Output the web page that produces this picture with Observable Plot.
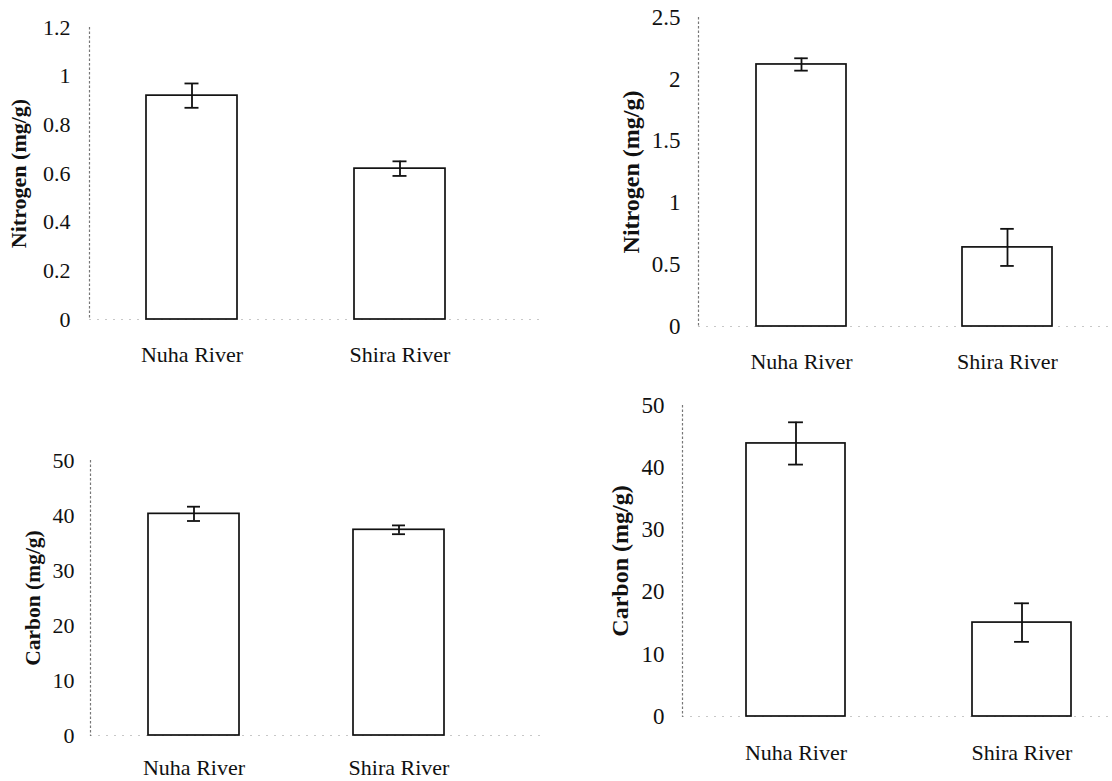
<!DOCTYPE html>
<html>
<head>
<meta charset="utf-8">
<script src="https://cdn.jsdelivr.net/npm/d3@7"></script>
<script src="https://cdn.jsdelivr.net/npm/@observablehq/plot@0.6"></script>
<style>
  html, body { margin: 0; padding: 0; background: #fff; }
  #wrap { position: relative; width: 1112px; height: 781px; overflow: hidden; background: #fff; }
  .panel { position: absolute; }
  .panel svg { background: transparent; overflow: visible; font-family: "Liberation Serif", "Times New Roman", serif; }
  .panel svg text { font-family: "Liberation Serif", "Times New Roman", serif; }
</style>
</head>
<body>
<div id="wrap"></div>
<script>
// ---- data ----
const sites = ["Nuha River", "Shira River"];

const nitrogenLeft = [0.92, 0.62];
const nitrogenLeftErr = [0.05, 0.03];
const nitrogenLeftTicks = [0, 0.2, 0.4, 0.6, 0.8, 1, 1.2];

const nitrogenRight = [2.12, 0.64];
const nitrogenRightErr = [0.05, 0.15];
const nitrogenRightTicks = [0, 0.5, 1, 1.5, 2, 2.5];

const carbonLeft = [40.3, 37.4];
const carbonLeftErr = [1.3, 0.8];
const carbonLeftTicks = [0, 10, 20, 30, 40, 50];

const carbonRight = [43.9, 15.1];
const carbonRightErr = [3.4, 3.1];
const carbonRightTicks = [0, 10, 20, 30, 40, 50];

const nitrogenLabel = "Nitrogen (mg/g)";
const carbonLabel = "Carbon (mg/g)";

function rows(values, errs) {
  return sites.map((s, i) => ({site: s, value: values[i], lo: values[i] - errs[i], hi: values[i] + errs[i]}));
}

function panel(cfg) {
  const data = rows(cfg.values, cfg.errs);
  const [r0, r1] = cfg.xRange;
  const pi = cfg.paddingInner;
  const step = (r1 - r0) / (2 - pi);
  const bw = step * (1 - pi);
  const capInset = (bw - cfg.capWidth) / 2;
  const ticks = cfg.ticks;
  const chart = Plot.plot({
    width: cfg.width,
    height: cfg.height,
    marginLeft: cfg.marginLeft,
    marginTop: cfg.marginTop,
    marginBottom: cfg.marginBottom,
    marginRight: 0,
    style: {fontFamily: "'Liberation Serif', 'Times New Roman', serif", color: "#111", background: "transparent"},
    x: {domain: sites, range: cfg.xRange, paddingInner: pi, paddingOuter: 0},
    y: {domain: [ticks[0], ticks[ticks.length - 1]]},
    marks: [
      Plot.ruleY([0], {stroke: "#c8c8c8", strokeDasharray: "2,6", strokeWidth: 1}),
      Plot.frame({anchor: "left", stroke: "#777", strokeDasharray: "1.5,3", strokeWidth: 1.2}),
      Plot.barY(data, {x: "site", y: "value", fill: "#fff", stroke: "#111", strokeWidth: 1.7}),
      Plot.ruleX(data, {x: "site", y1: "lo", y2: "hi", stroke: "#111", strokeWidth: 1.8}),
      Plot.tickY(data, {x: "site", y: "hi", stroke: "#111", strokeWidth: 1.8, insetLeft: capInset, insetRight: capInset}),
      Plot.tickY(data, {x: "site", y: "lo", stroke: "#111", strokeWidth: 1.8, insetLeft: capInset, insetRight: capInset}),
      Plot.axisY({ticks: ticks, tickFormat: d => String(d), tickSize: 0, tickPadding: cfg.yPad, fontSize: cfg.tickFont, label: null}),
      Plot.axisX({tickSize: 0, tickPadding: cfg.xPad, fontSize: 22, label: null, style: {letterSpacing: "0.5px"}}),
      Plot.text([cfg.label], {text: d => d, frameAnchor: "left", textAnchor: "middle", rotate: -90, dx: cfg.titleDx, fontSize: cfg.titleFont, fontWeight: "bold", fill: "#111"})
    ]
  });
  const div = document.createElement("div");
  div.className = "panel";
  div.style.left = cfg.left + "px";
  div.style.top = cfg.top + "px";
  div.appendChild(chart);
  document.getElementById("wrap").appendChild(div);
}

panel({
  values: nitrogenLeft, errs: nitrogenLeftErr, ticks: nitrogenLeftTicks, label: nitrogenLabel,
  left: 0, top: 0, width: 540, height: 390,
  marginLeft: 89, marginTop: 27, marginBottom: 71,
  xRange: [146, 445], paddingInner: 0.5625, capWidth: 14,
  yPad: 19, xPad: 27, tickFont: 22, titleDx: -71, titleFont: 22
});

panel({
  values: nitrogenRight, errs: nitrogenRightErr, ticks: nitrogenRightTicks, label: nitrogenLabel,
  left: 560, top: 0, width: 552, height: 390,
  marginLeft: 138, marginTop: 17, marginBottom: 64,
  xRange: [196, 493], paddingInner: 0.562, capWidth: 14,
  yPad: 18, xPad: 27, tickFont: 23, titleDx: -67, titleFont: 24
});

panel({
  values: carbonLeft, errs: carbonLeftErr, ticks: carbonLeftTicks, label: carbonLabel,
  left: 0, top: 390, width: 540, height: 391,
  marginLeft: 90, marginTop: 70, marginBottom: 46,
  xRange: [147, 444], paddingInner: 0.558, capWidth: 13,
  yPad: 16, xPad: 24, tickFont: 22, titleDx: -57, titleFont: 21.5
});

panel({
  values: carbonRight, errs: carbonRightErr, ticks: carbonRightTicks, label: carbonLabel,
  left: 560, top: 390, width: 552, height: 391,
  marginLeft: 122, marginTop: 15, marginBottom: 65,
  xRange: [185, 511], paddingInner: 0.563, capWidth: 15,
  yPad: 18, xPad: 28, tickFont: 23, titleDx: -62, titleFont: 24
});
</script>
</body>
</html>
